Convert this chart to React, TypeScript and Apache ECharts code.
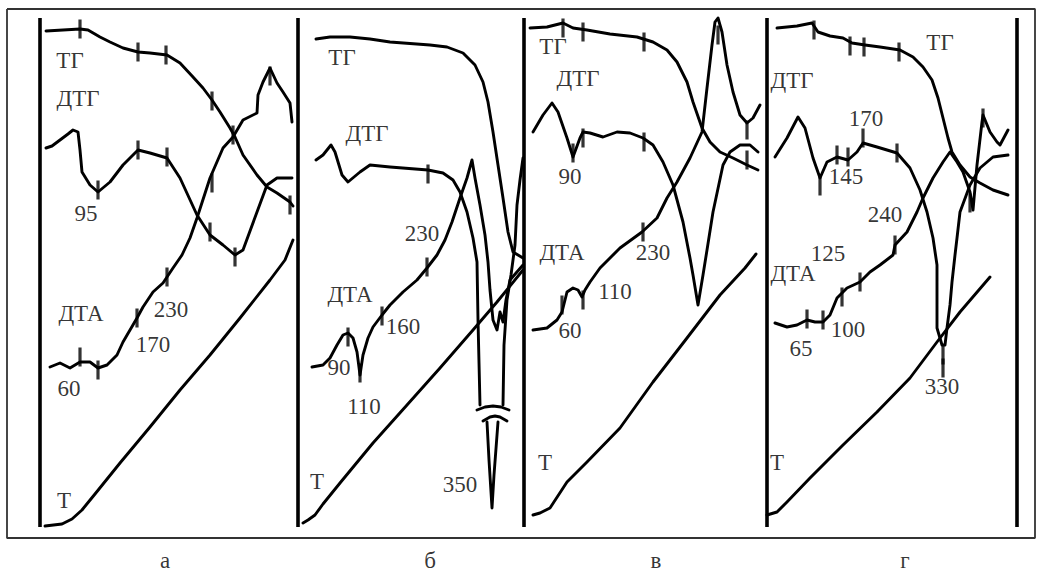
import React, { useEffect, useRef } from "react";
import * as echarts from "echarts";

type P = [number, number];
type L = [string, number, number];

// ---------- panel а ----------
const tgA: P[] = [[46,31],[80,29],[88,30],[100,37],[110,42],[123,48],[138,52],[150,53],[167,55],[180,63],[193,77],[203,88],[212,100],[220,112],[230,128],[235,137],[243,155],[257,175],[267,187],[277,193],[290,202],[293,206]];
const dtgA: P[] = [[46,148],[52,146],[60,140],[68,134],[73,130],[78,132],[80,150],[82,172],[90,185],[98,192],[110,182],[123,165],[138,150],[150,153],[167,158],[180,178],[197,215],[210,235],[223,245],[235,255],[243,250],[257,212],[267,185],[277,178],[292,178]];
const dtaA: P[] = [[50,367],[60,363],[70,368],[80,362],[90,362],[98,368],[107,365],[117,355],[123,342],[130,330],[137,318],[143,307],[153,292],[163,283],[173,268],[182,255],[190,238],[197,218],[210,178],[223,148],[233,137],[243,120],[257,113],[258,95],[263,82],[270,68],[277,83],[283,92],[290,103],[292,122]];
const tA: P[] = [[45,526],[62,524],[72,519],[82,510],[95,494],[120,463],[150,427],[180,390],[210,355],[240,318],[270,280],[285,260],[293,240]];
const ticksA: P[] = [[80,29],[138,52],[166,55],[212,101],[290,205],[98,190],[138,150],[167,157],[210,232],[235,257],[80,357],[98,370],[137,318],[167,277],[212,183],[233,135],[270,76]];
const labelsA: L[] = [["ТГ",70,60],["ДТГ",78,98],["95",86,213],["ДТА",81,313],["230",171,309],["170",153,344],["60",69,388],["T",64,500]];

// ---------- panel б ----------
const tgB: P[] = [[316,39],[330,37],[350,37],[370,39],[390,42],[430,45],[447,47],[463,53],[475,65],[483,82],[488,102],[493,132],[498,165],[503,198],[508,232],[513,252],[523,258]];
const dtgB: P[] = [[316,160],[323,155],[331,145],[335,152],[342,175],[348,182],[360,172],[370,165],[390,167],[428,170],[443,173],[453,180],[460,192],[467,212],[473,238],[477,262],[478,320],[480,405]];
const dtgB2: P[] = [[503,405],[504,345],[507,300],[511,275],[515,245],[517,205],[520,180],[523,158]];
const spikeB: P[] = [[487,422],[489,460],[492,508],[494,475],[498,422]];
const breakB1: P[] = [[477,410],[485,407],[493,406],[501,407],[509,410]];
const breakB2: P[] = [[483,421],[490,417],[495,416],[500,417],[507,421]];
const dtaB: P[] = [[312,367],[323,365],[330,358],[337,345],[343,335],[348,333],[353,338],[357,352],[360,375],[363,355],[368,338],[373,327],[382,315],[390,305],[403,292],[417,280],[427,268],[437,255],[445,240],[452,222],[460,198],[467,178],[472,160],[475,178],[480,205],[485,235],[488,262],[490,290],[493,320],[497,330],[500,312],[503,322],[506,300],[510,280],[523,265]];
const tB: P[] = [[303,523],[308,520],[315,515],[323,504],[340,483],[373,443],[407,405],[440,368],[473,330],[497,302],[523,270]];
const ticksB: P[] = [[348,337],[360,373],[382,316],[427,267],[428,174]];
const labelsB: L[] = [["ТГ",342,57],["ДТГ",367,133],["230",422,233],["ДТА",350,294],["160",403,326],["90",339,367],["110",364,406],["350",460,484],["T",317,481]];

// ---------- panel в ----------
const tgC: P[] = [[530,28],[547,27],[563,23],[573,28],[587,30],[610,34],[637,37],[653,42],[667,50],[677,62],[687,82],[693,102],[702,128],[710,142],[720,152],[733,158],[747,165],[758,170]];
const dtaC: P[] = [[533,330],[547,328],[557,320],[562,312],[567,292],[573,288],[578,290],[582,297],[585,290],[590,282],[600,268],[610,258],[620,248],[642,232],[657,218],[667,198],[677,182],[690,158],[702,132],[707,88],[712,45],[715,22],[718,18],[722,32],[727,65],[733,92],[740,115],[747,123],[753,118],[760,105]];
const dtgC: P[] = [[533,132],[543,115],[552,103],[558,112],[567,138],[573,157],[580,138],[583,132],[590,133],[603,137],[617,132],[630,133],[643,138],[653,145],[663,162],[673,185],[683,222],[690,258],[693,275],[698,305],[703,275],[707,250],[713,212],[723,165],[730,152],[740,145],[750,145],[758,152]];
const tC: P[] = [[533,515],[540,513],[550,508],[567,482],[587,462],[620,428],[653,382],[687,338],[720,295],[745,268],[756,254]];
const ticksC: P[] = [[563,28],[583,32],[644,42],[573,153],[583,138],[644,142],[562,305],[583,300],[643,232],[718,35],[747,130],[747,160]];
const labelsC: L[] = [["ТГ",553,46],["ДТГ",578,78],["90",570,176],["ДТА",562,252],["230",653,252],["110",615,291],["60",570,330],["T",545,462]];

// ---------- panel г ----------
const tgD: P[] = [[777,28],[797,26],[812,23],[818,32],[830,36],[843,38],[852,43],[865,45],[880,47],[900,50],[913,57],[923,67],[932,80],[938,98],[943,118],[948,138],[952,152],[960,165],[970,177],[980,183],[993,190],[1008,195]];
const dtgD: P[] = [[775,157],[787,138],[798,117],[805,128],[813,158],[820,178],[827,162],[837,157],[848,160],[857,152],[863,143],[877,147],[897,153],[910,168],[920,190],[927,212],[933,238],[937,265],[937,328],[942,345],[945,345],[947,328],[950,305],[952,282],[955,255],[957,238],[960,212],[970,185],[980,168],[993,157],[1008,155]];
const dtaD: P[] = [[775,323],[787,327],[797,325],[807,320],[815,322],[823,322],[830,315],[837,298],[847,288],[860,282],[870,272],[880,265],[893,255],[895,245],[907,232],[917,212],[923,198],[933,178],[943,162],[950,152],[957,162],[963,172],[970,192],[973,210],[977,165],[982,122],[983,115],[990,132],[997,142],[1000,145],[1008,130]];
const tD: P[] = [[767,515],[777,512],[787,502],[810,478],[843,445],[877,412],[910,378],[937,342],[960,312],[990,277]];
const ticksD: P[] = [[814,30],[850,46],[864,47],[899,52],[820,186],[837,155],[848,157],[863,138],[897,153],[807,319],[823,320],[842,297],[860,282],[895,245],[970,203],[983,118],[943,355],[943,368]];
const labelsD: L[] = [["ТГ",940,42],["ДТГ",792,80],["170",866,118],["145",846,176],["240",885,214],["125",828,253],["ДТА",793,273],["100",848,329],["65",801,348],["330",942,386],["T",777,462]];

// ---------- frame ----------
const dividerX: number[] = [40, 298, 524, 767, 1017];
const dividerSpan: P = [18, 527];
const frame: P[] = [[7,9],[1035,9],[1035,538],[7,538],[7,9]];
const panelNames: L[] = [["а",165,560],["б",430,560],["в",656,560],["г",905,560]];

const curves: P[][] = [tgA, dtgA, dtaA, tA, tgB, dtgB, dtgB2, spikeB, breakB1, breakB2, dtaB, tB, tgC, dtaC, dtgC, tC, tgD, dtgD, dtaD, tD];
const ticks: P[] = [...ticksA, ...ticksB, ...ticksC, ...ticksD];
const labels: L[] = [...labelsA, ...labelsB, ...labelsC, ...labelsD, ...panelNames];

const FONT = "'Liberation Serif', 'DejaVu Serif', serif";

export default function App() {
  const ref = useRef<HTMLDivElement>(null);
  useEffect(() => {
    if (!ref.current) return;
    const chart = echarts.init(ref.current, undefined, { renderer: "svg" });
    const series: any[] = [];
    curves.forEach((c) => {
      series.push({
        type: "line",
        data: c,
        showSymbol: false,
        symbol: "none",
        silent: true,
        lineStyle: { color: "#000", width: 2.9, join: "round", cap: "round" },
      });
    });
    dividerX.forEach((x) => {
      series.push({
        type: "line",
        data: [[x, dividerSpan[0]], [x, dividerSpan[1]]],
        showSymbol: false,
        symbol: "none",
        silent: true,
        lineStyle: { color: "#000", width: 3.6 },
      });
    });
    series.push({
      type: "line",
      data: frame,
      showSymbol: false,
      symbol: "none",
      silent: true,
      lineStyle: { color: "#333", width: 1.8 },
    });
    series.push({
      type: "scatter",
      data: ticks,
      symbol: "rect",
      symbolSize: [3.2, 19],
      silent: true,
      itemStyle: { color: "#000" },
    });
    series.push({
      type: "scatter",
      data: labels.map((l) => ({ name: l[0], value: [l[1], l[2]] })),
      symbolSize: 1,
      silent: true,
      itemStyle: { color: "rgba(0,0,0,0)" },
      label: {
        show: true,
        formatter: "{b}",
        position: "inside",
        align: "center",
        verticalAlign: "middle",
        color: "#000",
        fontFamily: FONT,
        fontSize: 23,
      },
    });
    chart.setOption({
      animation: false,
      backgroundColor: "#fff",
      grid: { left: 0, right: 0, top: 0, bottom: 0, containLabel: false },
      xAxis: { type: "value", min: 0, max: 1037, show: false },
      yAxis: { type: "value", min: 0, max: 575, inverse: true, show: false },
      series,
    });
    return () => chart.dispose();
  }, []);
  return (
    <div
      ref={ref}
      style={{ position: "fixed", left: 0, top: 0, width: 1037, height: 575, background: "#fff" }}
    />
  );
}
